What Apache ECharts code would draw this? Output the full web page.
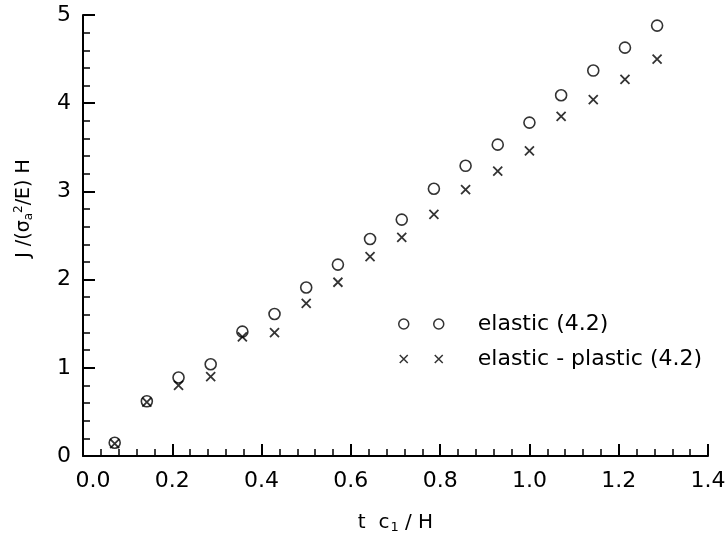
<!DOCTYPE html>
<html>
<head>
<meta charset="utf-8">
<script src="https://cdn.jsdelivr.net/npm/echarts@6/dist/echarts.min.js"></script>
<style>
	html, body { margin: 0; padding: 0; background: #fff; }
	#chart { width: 726px; height: 539px; }
</style>
</head>
<body>
<div id="chart"></div>
<script>
// t c1 / H
var xValues = [0.071, 0.143, 0.214, 0.286, 0.357, 0.429, 0.500, 0.571, 0.643,
		0.714, 0.786, 0.857, 0.929, 1.000, 1.071, 1.143, 1.214, 1.286];
// J / (sigma_a^2 / E) H
var elasticValues = [0.15, 0.62, 0.89, 1.04, 1.41, 1.61, 1.91, 2.17, 2.46,
		2.68, 3.03, 3.29, 3.53, 3.78, 4.09, 4.37, 4.63, 4.88];
var plasticValues = [0.14, 0.61, 0.80, 0.90, 1.35, 1.40, 1.73, 1.97, 2.26,
		2.48, 2.74, 3.02, 3.23, 3.46, 3.85, 4.04, 4.27, 4.50];
var seriesNames = ['elastic (4.2)', 'elastic - plastic (4.2)'];

var font = 'DejaVu Sans';

function pairs(xs, ys) {
	var out = [];
	for (var i = 0; i < xs.length; i++) {
		out.push([xs[i], ys[i]]);
	}
	return out;
}

var circlePath = 'path://M0,5 A5,5 0 1,1 10,5 A5,5 0 1,1 0,5 Z M35,5 A5,5 0 1,1 45,5 A5,5 0 1,1 35,5 Z';
var crossPath = 'path://M1,1 L9,9 M1,9 L9,1 M36,1 L44,9 M36,9 L44,1 M0,0 M45,10';

var chart = echarts.init(document.getElementById('chart'));
var option = {
	animation : false,
	backgroundColor : '#fff',
	grid : {
		left : 83,
		right : 18,
		top : 15,
		bottom : 83,
		outerBoundsMode : 'none'
	},
	legend : {
		orient : 'vertical',
		left : 393,
		top : 307,
		itemWidth : 45,
		itemHeight : 10,
		itemGap : 11,
		itemStyle : {
			color : 'transparent',
			borderColor : '#000',
			borderWidth : 1.5
		},
		textStyle : {
			fontFamily : font,
			fontSize : 22,
			color : '#000',
			lineHeight : 24,
			padding : [ 0, 0, 0, 29 ]
		},
		data : [ {
			name : seriesNames[0],
			icon : circlePath
		}, {
			name : seriesNames[1],
			icon : crossPath
		} ]
	},
	xAxis : {
		type : 'value',
		min : 0,
		max : 1.4,
		interval : 0.2,
		name : '{t|t  c}{s|1}{t| / H}',
		nameLocation : 'middle',
		nameGap : 55,
		nameTextStyle : {
			rich : {
				t : { fontFamily : font, fontSize : 20, color : '#000' },
				s : { fontFamily : font, fontSize : 13, color : '#000', padding : [ 10, 0, 0, 1 ] }
			}
		},
		axisLine : { lineStyle : { color : '#000', width : 2 } },
		axisTick : { inside : true, length : 12, lineStyle : { color : '#000', width : 2 } },
		minorTick : { show : true, splitNumber : 5, length : 7, lineStyle : { color : '#000', width : 1.5 } },
		splitLine : { show : false },
		axisLabel : {
			fontFamily : font,
			fontSize : 22,
			color : '#000',
			margin : 14,
			formatter : function(v) {
				if (v === 0) {
					return '{p|0.0}';
				}
				return v.toFixed(1);
			},
			rich : {
				p : { fontFamily : font, fontSize : 22, color : '#000', padding : [ 0, 0, 0, 20 ] }
			}
		}
	},
	yAxis : {
		type : 'value',
		min : 0,
		max : 5,
		interval : 1,
		name : '{t|J /(σ}{s|a}{u|2}{t|/E) H}',
		nameLocation : 'middle',
		nameRotate : 90,
		nameGap : 47,
		nameTextStyle : {
			padding : [ 0, 0, 0, 54 ],
			rich : {
				t : { fontFamily : font, fontSize : 19, color : '#000' },
				s : { fontFamily : font, fontSize : 12, color : '#000', padding : [ 9, 0, 0, 0 ] },
				u : { fontFamily : font, fontSize : 12, color : '#000', padding : [ 0, 0, 11, 0 ] }
			}
		},
		axisLine : { lineStyle : { color : '#000', width : 2 } },
		axisTick : { inside : true, length : 12, lineStyle : { color : '#000', width : 2 } },
		minorTick : { show : true, splitNumber : 5, length : 7, lineStyle : { color : '#000', width : 1.5 } },
		splitLine : { show : false },
		axisLabel : {
			fontFamily : font,
			fontSize : 22,
			color : '#000',
			margin : 12
		}
	},
	series : [ {
		name : seriesNames[0],
		type : 'scatter',
		symbol : 'circle',
		symbolSize : 11,
		itemStyle : {
			color : 'transparent',
			borderColor : '#000',
			borderWidth : 1.6
		},
		data : pairs(xValues, elasticValues)
	}, {
		name : seriesNames[1],
		type : 'scatter',
		symbol : 'path://M0,0 L10,10 M0,10 L10,0',
		symbolSize : 9,
		itemStyle : {
			color : 'transparent',
			borderColor : '#000',
			borderWidth : 1.8
		},
		data : pairs(xValues, plasticValues)
	} ]
};
chart.setOption(option);
window.onresize = chart.resize;
</script>
</body>
</html>
